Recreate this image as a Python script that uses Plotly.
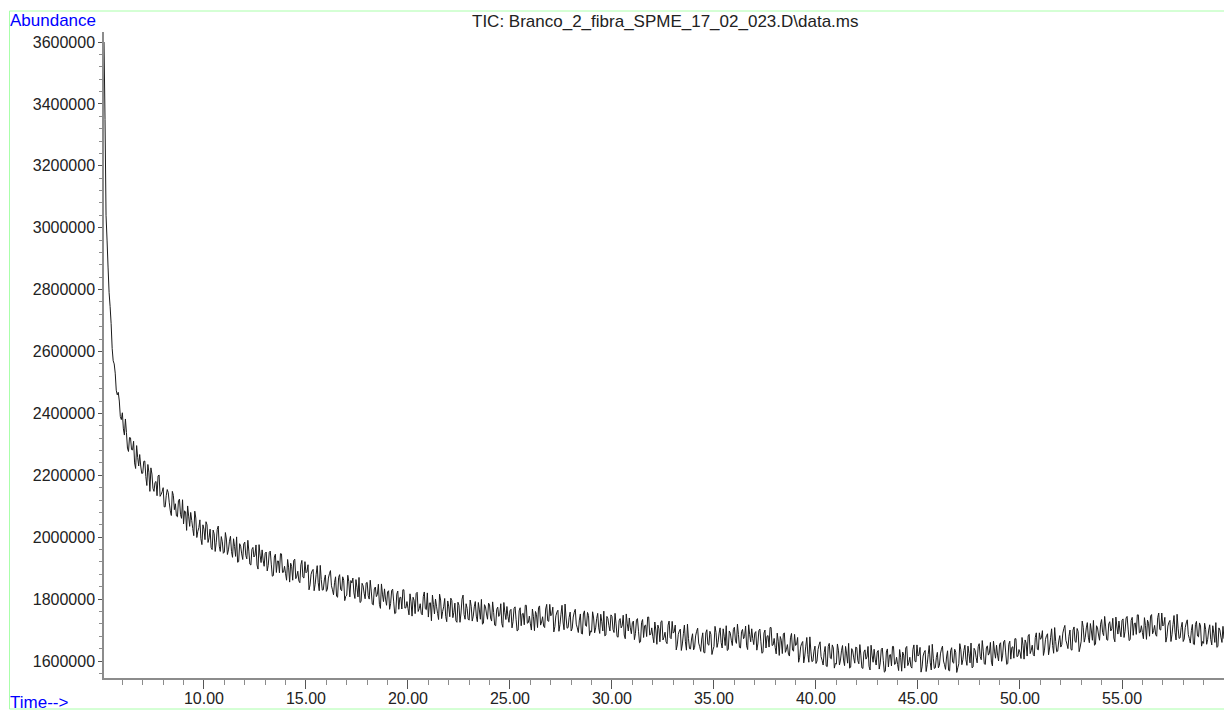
import plotly.graph_objects as go

# Scan grid (minutes): readings on whole tenths and on the half-steps between
t_start = 5.1
t_step = 0.1
t_half_start = 5.15

# Total ion current (thousands of counts) read at 5.1, 5.2, ... 60.0 min
tic_thousands = [
    3600, 3040, 2870, 2745, 2610, 2560, 2475, 2468, 2390,
    2402, 2330, 2338, 2277, 2321, 2282, 2240, 2296, 2230, 2230,
    2207, 2246, 2167, 2210, 2224, 2158, 2177, 2134, 2201, 2138,
    2160, 2098, 2154, 2111, 2070, 2135, 2108, 2066, 2123, 2061,
    2043, 2082, 2101, 2035, 2054, 2005, 2062, 2019, 2056, 1976,
    2026, 2050, 1983, 2026, 1960, 2011, 1982, 2036, 1954, 1985,
    1952, 1994, 1959, 2003, 1935, 1970, 2001, 1921, 1971, 1928,
    1984, 1930, 1955, 1910, 1967, 1942, 1910, 1976, 1918, 1926,
    1948, 1891, 1951, 1913, 1876, 1945, 1923, 1885, 1946, 1887,
    1882, 1928, 1855, 1905, 1925, 1866, 1890, 1853, 1925, 1868,
    1885, 1911, 1846, 1891, 1827, 1880, 1853, 1909, 1829, 1862,
    1825, 1868, 1892, 1830, 1853, 1809, 1870, 1831, 1872, 1795,
    1813, 1856, 1860, 1868, 1802, 1838, 1870, 1792, 1843, 1801,
    1854, 1800, 1826, 1781, 1839, 1815, 1783, 1849, 1792, 1800,
    1823, 1767, 1828, 1791, 1755, 1826, 1805, 1768, 1830, 1772,
    1770, 1817, 1745, 1796, 1818, 1760, 1785, 1749, 1823, 1766,
    1742, 1788, 1813, 1752, 1777, 1734, 1797, 1760, 1802, 1727,
    1775, 1803, 1740, 1787, 1725, 1780, 1755, 1813, 1735, 1770,
    1732, 1777, 1745, 1792, 1727, 1765, 1799, 1722, 1775, 1735,
    1781, 1729, 1757, 1714, 1774, 1751, 1721, 1789, 1734, 1744,
    1762, 1707, 1770, 1734, 1700, 1772, 1752, 1717, 1780, 1724,
    1720, 1768, 1698, 1750, 1773, 1716, 1743, 1708, 1783, 1728,
    1746, 1774, 1711, 1758, 1696, 1751, 1726, 1784, 1706, 1741,
    1697, 1742, 1767, 1707, 1732, 1689, 1752, 1715, 1757, 1682,
    1694, 1739, 1707, 1754, 1689, 1727, 1761, 1684, 1737, 1697,
    1744, 1692, 1720, 1677, 1737, 1714, 1684, 1752, 1697, 1707,
    1724, 1669, 1732, 1696, 1662, 1734, 1714, 1679, 1742, 1686,
    1680, 1726, 1654, 1704, 1727, 1668, 1693, 1656, 1729, 1672,
    1690, 1716, 1652, 1697, 1634, 1688, 1662, 1719, 1640, 1671,
    1636, 1681, 1706, 1646, 1671, 1628, 1691, 1654, 1696, 1621,
    1647, 1692, 1660, 1707, 1642, 1680, 1714, 1637, 1690, 1650,
    1709, 1657, 1685, 1642, 1702, 1679, 1649, 1717, 1662, 1672,
    1690, 1635, 1698, 1662, 1628, 1700, 1680, 1645, 1708, 1652,
    1644, 1690, 1618, 1667, 1687, 1628, 1653, 1616, 1689, 1632,
    1650, 1676, 1612, 1657, 1594, 1648, 1621, 1678, 1598, 1632,
    1592, 1637, 1662, 1602, 1627, 1584, 1647, 1610, 1652, 1577,
    1590, 1635, 1603, 1650, 1585, 1623, 1657, 1580, 1633, 1593,
    1643, 1591, 1619, 1576, 1636, 1613, 1583, 1651, 1596, 1606,
    1629, 1574, 1637, 1601, 1567, 1639, 1619, 1584, 1647, 1591,
    1589, 1637, 1567, 1619, 1642, 1585, 1612, 1577, 1652, 1597,
    1616, 1644, 1581, 1628, 1566, 1621, 1596, 1654, 1576, 1611,
    1578, 1623, 1648, 1588, 1613, 1570, 1633, 1596, 1638, 1563,
    1591, 1636, 1604, 1651, 1586, 1624, 1658, 1581, 1634, 1594,
    1656, 1604, 1632, 1589, 1649, 1626, 1596, 1664, 1609, 1619,
    1654, 1599, 1662, 1626, 1592, 1664, 1644, 1609, 1672, 1616,
    1628, 1676, 1606, 1658, 1681, 1624, 1651, 1616, 1691, 1636,
    1670, 1698, 1635, 1682, 1620, 1675, 1650, 1708, 1630, 1665,
    1645, 1690, 1715, 1655, 1680, 1637, 1700, 1663, 1705, 1630,
    1664, 1709, 1677, 1724, 1659, 1697, 1731, 1654, 1707, 1667,
    1734, 1682, 1710, 1667, 1727, 1704, 1674, 1742, 1687, 1697,
    1731, 1676, 1739, 1703, 1669, 1741, 1721, 1686, 1749, 1693,
    1692, 1740, 1670, 1722, 1745, 1688, 1715, 1680, 1755, 1700,
    1713, 1741, 1678, 1725, 1663, 1718, 1693, 1751, 1673, 1708,
    1663, 1708, 1733, 1673, 1698, 1655, 1718, 1681, 1723, 1648,
    1657, 1702, 1670, 1717, 1652, 1690, 1724, 1647, 1700, 1660,
    1672,
]

# Total ion current (thousands of counts) read at 5.15, 5.25, ... 59.95 min
tic_thousands_half = [
    3350, 2960, 2790, 2690, 2570, 2530, 2460, 2440, 2380,
    2350, 2382, 2288, 2322, 2283, 2310, 2222, 2258, 2267, 2206,
    2245, 2196, 2235, 2148, 2204, 2148, 2180, 2198, 2132, 2147,
    2098, 2134, 2144, 2085, 2148, 2089, 2069, 2118, 2074, 2121,
    2085, 2022, 2068, 2080, 2028, 2084, 1999, 2031, 1995, 2040,
    1992, 2040, 1998, 1967, 2023, 1954, 2025, 1971, 2002, 1948,
    2015, 1944, 1987, 1954, 1995, 1938, 1919, 1979, 1946, 1978,
    1941, 1990, 1913, 1961, 1936, 1975, 1897, 1942, 1959, 1906,
    1952, 1909, 1955, 1874, 1936, 1886, 1923, 1947, 1886, 1906,
    1861, 1901, 1916, 1861, 1929, 1874, 1859, 1911, 1871, 1921,
    1889, 1830, 1880, 1896, 1848, 1908, 1827, 1863, 1830, 1878,
    1832, 1882, 1843, 1814, 1872, 1806, 1879, 1827, 1861, 1809,
    1877, 1807, 1852, 1820, 1863, 1807, 1789, 1851, 1819, 1852,
    1811, 1861, 1784, 1833, 1808, 1848, 1770, 1816, 1833, 1780,
    1827, 1786, 1832, 1753, 1816, 1767, 1806, 1830, 1771, 1792,
    1749, 1791, 1806, 1753, 1822, 1769, 1754, 1808, 1769, 1820,
    1787, 1730, 1782, 1800, 1754, 1816, 1737, 1775, 1744, 1794,
    1743, 1795, 1757, 1730, 1790, 1725, 1800, 1750, 1785, 1735,
    1797, 1729, 1775, 1745, 1789, 1735, 1719, 1782, 1752, 1787,
    1739, 1791, 1716, 1767, 1744, 1785, 1709, 1757, 1776, 1725,
    1767, 1727, 1775, 1697, 1762, 1714, 1754, 1780, 1722, 1745,
    1700, 1743, 1760, 1708, 1778, 1726, 1713, 1768, 1730, 1783,
    1751, 1694, 1746, 1764, 1718, 1780, 1701, 1739, 1708, 1758,
    1705, 1757, 1719, 1692, 1752, 1687, 1762, 1712, 1747, 1697,
    1759, 1691, 1737, 1707, 1751, 1697, 1681, 1744, 1714, 1749,
    1702, 1754, 1679, 1730, 1707, 1748, 1672, 1720, 1739, 1688,
    1729, 1689, 1737, 1659, 1724, 1676, 1716, 1742, 1684, 1707,
    1659, 1700, 1716, 1662, 1730, 1677, 1662, 1716, 1676, 1728,
    1694, 1636, 1686, 1703, 1655, 1716, 1635, 1672, 1639, 1688,
    1644, 1696, 1658, 1631, 1691, 1626, 1701, 1651, 1686, 1636,
    1712, 1644, 1690, 1660, 1704, 1650, 1634, 1697, 1667, 1702,
    1667, 1719, 1644, 1695, 1672, 1713, 1637, 1685, 1704, 1653,
    1695, 1655, 1703, 1625, 1690, 1642, 1682, 1708, 1650, 1673,
    1623, 1664, 1679, 1624, 1691, 1637, 1622, 1675, 1635, 1686,
    1654, 1596, 1646, 1663, 1616, 1676, 1596, 1632, 1600, 1648,
    1600, 1652, 1614, 1587, 1647, 1582, 1657, 1607, 1642, 1592,
    1655, 1587, 1633, 1603, 1647, 1593, 1577, 1640, 1610, 1645,
    1601, 1653, 1578, 1629, 1606, 1647, 1571, 1619, 1638, 1587,
    1634, 1594, 1642, 1564, 1629, 1581, 1621, 1647, 1589, 1612,
    1569, 1612, 1629, 1577, 1647, 1595, 1582, 1637, 1599, 1652,
    1621, 1564, 1616, 1634, 1588, 1650, 1571, 1609, 1578, 1628,
    1586, 1638, 1600, 1573, 1633, 1568, 1643, 1593, 1628, 1578,
    1656, 1588, 1634, 1604, 1648, 1594, 1578, 1641, 1611, 1646,
    1614, 1666, 1591, 1642, 1619, 1660, 1584, 1632, 1651, 1600,
    1659, 1619, 1667, 1589, 1654, 1606, 1646, 1672, 1614, 1637,
    1608, 1651, 1668, 1616, 1686, 1634, 1621, 1676, 1638, 1691,
    1675, 1618, 1670, 1688, 1642, 1704, 1625, 1663, 1632, 1682,
    1653, 1705, 1667, 1640, 1700, 1635, 1710, 1660, 1695, 1645,
    1729, 1661, 1707, 1677, 1721, 1667, 1651, 1714, 1684, 1719,
    1692, 1744, 1669, 1720, 1697, 1738, 1662, 1710, 1729, 1678,
    1736, 1696, 1744, 1666, 1731, 1683, 1723, 1749, 1691, 1714,
    1672, 1715, 1732, 1680, 1750, 1698, 1685, 1740, 1702, 1755,
    1718, 1661, 1713, 1731, 1685, 1747, 1668, 1706, 1675, 1725,
    1671, 1723, 1685, 1658, 1718, 1653, 1728, 1678, 1713, 1663,
    1722, 1654, 1700, 1670, 1714, 1660, 1644, 1707, 1677, 1712,
]

readings = []
for i, v in enumerate(tic_thousands):
    readings.append((round(t_start + i * t_step, 2), v))
for i, v in enumerate(tic_thousands_half):
    readings.append((round(t_half_start + i * t_step, 2), v))
readings.sort()
time_min = [t for t, _ in readings]
abundance = [v * 1000 for _, v in readings]

y_tick_values = [1600000, 1800000, 2000000, 2200000, 2400000, 2600000,
                 2800000, 3000000, 3200000, 3400000, 3600000]
x_tick_values = [10, 15, 20, 25, 30, 35, 40, 45, 50, 55]
title_text = "TIC: Branco_2_fibra_SPME_17_02_023.D\\data.ms"

W, H = 1224, 711
L, R, T, B = 104, 0, 32, 33
pw, ph = W - L - R, H - T - B


def px(x):
    return (x - L) / pw


def py(y):
    return (H - B - y) / ph


fig = go.Figure()
fig.add_trace(go.Scatter(
    x=time_min, y=abundance, mode="lines",
    line=dict(color="#1a1a1a", width=1, simplify=False),
    hoverinfo="x+y", showlegend=False,
))

font = "Liberation Sans, Arial, Helvetica, sans-serif"

fig.update_layout(
    width=W, height=H,
    margin=dict(l=L, r=R, t=T, b=B),
    paper_bgcolor="white", plot_bgcolor="white",
    font=dict(family=font, size=16, color="#222222"),
    xaxis=dict(
        range=[5.1, 60.0], showgrid=False, zeroline=False,
        showline=True, linecolor="#8c8c8c", linewidth=1.5,
        tickmode="array", tickvals=x_tick_values,
        ticktext=[f"{v:.2f}" for v in x_tick_values],
        ticks="outside", ticklen=9, tickcolor="#555555", tickwidth=1,
        ticklabelstandoff=-4,
        minor=dict(dtick=1, ticks="outside", ticklen=5, tickcolor="#8c8c8c"),
        tickfont=dict(size=16, color="#222222"),
    ),
    yaxis=dict(
        range=[1545070, 3632300], showgrid=False, zeroline=False,
        showline=True, linecolor="#8c8c8c", linewidth=1.5,
        tickmode="array", tickvals=y_tick_values,
        ticktext=[str(v) for v in y_tick_values],
        ticks="outside", ticklen=4, tickcolor="#555555", tickwidth=1,
        minor=dict(dtick=40000, tick0=1600000, ticks="outside", ticklen=3,
                   tickcolor="#8c8c8c"),
        tickfont=dict(size=16, color="#222222"),
    ),
    shapes=[dict(
        type="rect", xref="paper", yref="paper",
        x0=px(9.5), x1=px(1240), y0=py(709), y1=py(11),
        line=dict(color="#aaffaa", width=1), fillcolor="rgba(0,0,0,0)",
        layer="below",
    )],
    annotations=[
        dict(text="Abundance", xref="paper", yref="paper",
             x=px(8), y=py(20), xanchor="left", yanchor="middle",
             showarrow=False, font=dict(size=17, color="#0000ff")),
        dict(text="Time-->", xref="paper", yref="paper",
             x=px(8), y=py(702), xanchor="left", yanchor="middle",
             showarrow=False, font=dict(size=17, color="#0000ff")),
        dict(text=title_text, xref="paper", yref="paper",
             x=px(665), y=py(21), xanchor="center", yanchor="middle",
             showarrow=False, font=dict(size=17, color="#222222")),
    ],
)

fig.write_html("out.html")
